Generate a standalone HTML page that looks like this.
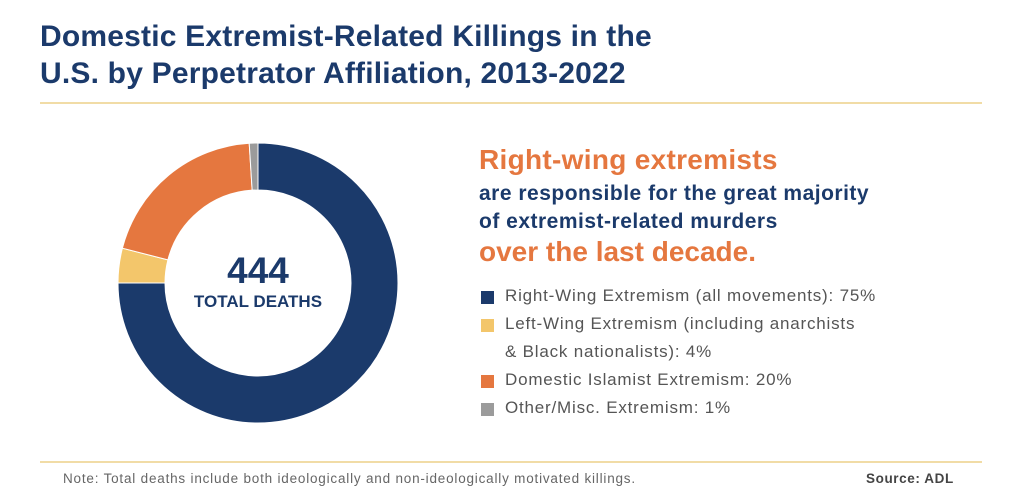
<!DOCTYPE html>
<html><head><meta charset="utf-8"><style>
body{margin:0;width:1024px;height:501px;background:#fff;font-family:"Liberation Sans",Arial,sans-serif;position:relative;overflow:hidden}
.a{position:absolute;white-space:nowrap}
</style></head><body>
<div class="a" style="left:40px;top:18px;font-size:30px;letter-spacing:0.2px;font-weight:bold;color:#1b3a6b;line-height:37px">Domestic Extremist-Related Killings in the<br>U.S. by Perpetrator Affiliation, 2013-2022</div>
<div class="a" style="left:40px;top:102px;width:942px;height:2px;background:#f1dca6"></div>
<svg class="a" style="left:0;top:0" width="520" height="460" id="svg"></svg>
<div class="a" style="left:158px;top:250px;width:200px;text-align:center;font-size:37px;font-weight:bold;color:#1b3a6b">444</div>
<div class="a" style="left:158px;top:292px;width:200px;text-align:center;font-size:17px;font-weight:bold;color:#1b3a6b">TOTAL DEATHS</div>
<div class="a" style="left:479px;top:144px;font-size:28px;letter-spacing:0.3px;font-weight:bold;color:#e5773f">Right-wing extremists</div>
<div class="a" style="left:479px;top:180px;font-size:21px;letter-spacing:0.5px;font-weight:bold;color:#1b3a6b;line-height:28px">are responsible for the great majority<br>of extremist-related murders</div>
<div class="a" style="left:479px;top:236px;font-size:28px;font-weight:bold;color:#e5773f">over the last decade.</div>
<div id="legend"></div>
<div class="a" style="left:40px;top:461px;width:942px;height:2px;background:#f1dca6"></div>
<div class="a" style="left:63px;top:471px;font-size:13.5px;letter-spacing:0.8px;color:#666">Note: Total deaths include both ideologically and non-ideologically motivated killings.</div>
<div class="a" style="left:866px;top:471px;font-size:13.5px;letter-spacing:0.6px;font-weight:bold;color:#444">Source: ADL</div>
<script>
const categories=["Right-Wing Extremism (all movements): 75%","Left-Wing Extremism (including anarchists<br>& Black nationalists): 4%","Domestic Islamist Extremism: 20%","Other/Misc. Extremism: 1%"];
const values=[75,4,20,1];
const colors=["#1b3a6b","#f3c66b","#e5773f","#9b9b9b"];
const svg=document.getElementById('svg');
const cx=258,cy=283,R=140,r=93;
const tot=values.reduce((a,b)=>a+b,0);
let ang=0;
function pt(a,rad){return [cx+rad*Math.sin(a),cy-rad*Math.cos(a)];}
values.forEach((v,i)=>{
 const a0=ang/tot*2*Math.PI,a1=(ang+v)/tot*2*Math.PI;ang+=v;
 const lg=a1-a0>Math.PI?1:0;
 const p0=pt(a0,R),p1=pt(a1,R),q1=pt(a1,r),q0=pt(a0,r);
 const p=document.createElementNS('http://www.w3.org/2000/svg','path');
 p.setAttribute('d',`M${p0}A${R},${R} 0 ${lg} 1 ${p1}L${q1}A${r},${r} 0 ${lg} 0 ${q0}Z`);
 p.setAttribute('fill',colors[i]);p.setAttribute('stroke','#fff');p.setAttribute('stroke-width','1');
 
 
 svg.appendChild(p);
});
const lg=document.getElementById('legend');
const tops=[288,316,372,400];
categories.forEach((c,i)=>{
 const sq=document.createElement('div');sq.className='a';
 sq.style.cssText=`left:481px;top:${tops[i]+3}px;width:13px;height:13px;background:${colors[i]}`;
 
 
 lg.appendChild(sq);
 const t=document.createElement('div');t.className='a';
 t.style.cssText=`left:505px;top:${tops[i]}px;font-size:17px;letter-spacing:0.8px;color:#555;line-height:28px;margin-top:-6px`;
 t.innerHTML=c;
 
 
 lg.appendChild(t);
});
</script>
</body></html>
